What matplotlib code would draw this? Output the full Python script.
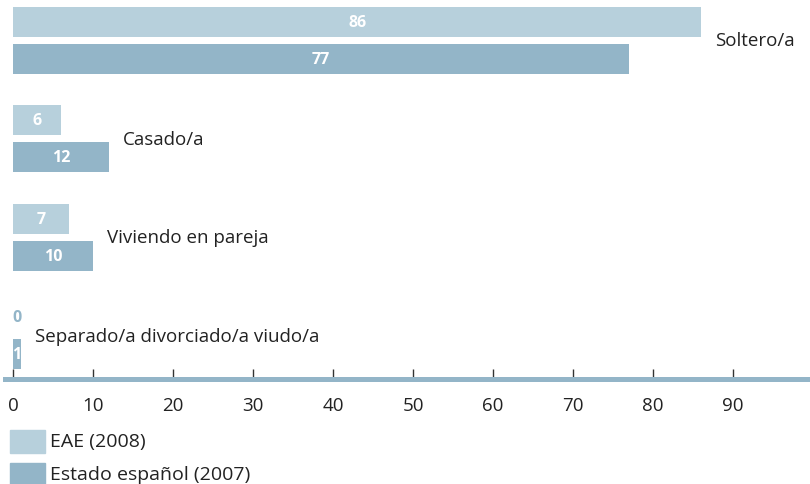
import numpy as np
import matplotlib
matplotlib.use('Agg')
import matplotlib.pyplot as plt
from matplotlib.patches import Rectangle

plt.rcParams['font.family'] = ['Open Sans', 'DejaVu Sans']

categories = ['Soltero/a', 'Casado/a', 'Viviendo en pareja', 'Separado/a divorciado/a viudo/a']
eae_2008 = [86, 6, 7, 0]
estado_2007 = [77, 12, 10, 1]
series_names = ['EAE (2008)', 'Estado español (2007)']
xticks = [0, 10, 20, 30, 40, 50, 60, 70, 80, 90]

c_light = '#b7d0dc'
c_dark = '#93b5c8'
W, H = 810, 485

fig = plt.figure(figsize=(8.1, 4.85), dpi=100)
# axes from x pixel 5 to 810, y pixel 0 to 380
ax = fig.add_axes([5 / W, 1 - 380 / H, 805 / W, 380 / H])

y = np.arange(len(categories))
off = 0.188
h = 0.305
ax.barh(y - off, eae_2008, height=h, color=c_light)
ax.barh(y + off, estado_2007, height=h, color=c_dark)

for i in range(len(categories)):
    for val, yy in ((eae_2008[i], y[i] - off), (estado_2007[i], y[i] + off)):
        if val == 0:
            ax.text(0.5, yy, str(val), ha='center', va='center', color=c_dark,
                    fontsize=11.5, fontweight='bold')
        else:
            ax.text(val / 2, yy, str(val), ha='center', va='center', color='white',
                    fontsize=11.5, fontweight='bold')
    m = max(eae_2008[i], estado_2007[i])
    ax.text(m + 1.7, y[i], categories[i], ha='left', va='center',
            fontsize=13.5, color='#222222')

ax.set_xlim(-1, 99.6)
ax.set_ylim(3.44, -0.42)
ax.set_yticks([])
ax.set_xticks(xticks)
ax.tick_params(axis='x', direction='in', length=7, width=1, color='#333333',
               labelsize=13.5, labelcolor='#222222', pad=12)
for s in ['top', 'left', 'right']:
    ax.spines[s].set_visible(False)
ax.spines['bottom'].set_color(c_dark)
ax.spines['bottom'].set_linewidth(3.6)

# legend drawn by hand: boxes 35x23 px
for k, (name, col) in enumerate(zip(series_names, [c_light, c_dark])):
    top = 431 + 33 * k
    fig.patches.append(Rectangle((10 / W, 1 - (top + 23) / H), 35 / W, 23 / H,
                                 transform=fig.transFigure, color=col))
    fig.text(50 / W, 1 - (top + 11.5) / H, name, ha='left', va='center',
             fontsize=14, color='#222222')

fig.savefig('out.png', dpi=100)
